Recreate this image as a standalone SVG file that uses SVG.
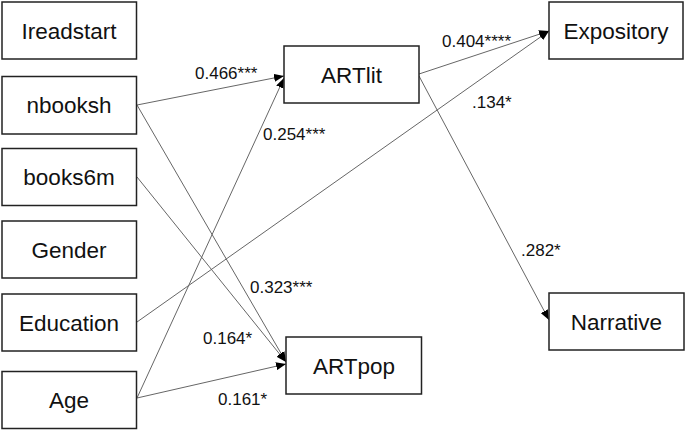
<svg xmlns="http://www.w3.org/2000/svg" width="685" height="431" viewBox="0 0 685 431">
<defs>
<style>
.box{fill:#fff;stroke:#222;stroke-width:1.5}
.lbl{font-family:"Liberation Sans",Arial,sans-serif;font-size:22.5px;fill:#111;text-anchor:middle}
.el{font-family:"Liberation Sans",Arial,sans-serif;font-size:17px;fill:#111}
.edge{stroke:#666;stroke-width:1;fill:none}
.arr{marker-end:url(#ah)}
</style>
<marker id="ah" markerUnits="userSpaceOnUse" markerWidth="10" markerHeight="8" viewBox="0 0 10 8" refX="10" refY="4" orient="auto">
<path d="M0,0 L10,4 L0,8 Z" fill="#000"/>
</marker>
</defs>
<rect width="685" height="431" fill="#fff"/>
<g id="connectors">
<line class="edge arr" x1="137" y1="105" x2="284" y2="76"/>
<line class="edge arr" x1="137" y1="398" x2="284" y2="78"/>
<line class="edge arr" x1="137" y1="398" x2="286" y2="364"/>
<line class="edge arr" x1="137" y1="105" x2="286" y2="362"/>
<line class="edge arr" x1="137" y1="177" x2="286" y2="362"/>
<line class="edge arr" x1="137" y1="322" x2="549" y2="31"/>
<line class="edge arr" x1="419" y1="74" x2="549" y2="31"/>
<line class="edge arr" x1="419" y1="76" x2="549" y2="320"/>
</g>
<g id="edge-labels">
<text class="el" x="195" y="79">0.466***</text>
<text class="el" x="263" y="140">0.254***</text>
<text class="el" x="442" y="47">0.404****</text>
<text class="el" x="472" y="108">.134*</text>
<text class="el" x="521" y="256">.282*</text>
<text class="el" x="250" y="293">0.323***</text>
<text class="el" x="203" y="344">0.164*</text>
<text class="el" x="218" y="405">0.161*</text>
</g>
<g id="Ireadstart"><rect class="box" x="2" y="2" width="134.5" height="57"/><text class="lbl" x="69" y="38.5">Ireadstart</text></g>
<g id="nbooksh"><rect class="box" x="2" y="76.5" width="134.5" height="57.5"/><text class="lbl" x="69" y="113">nbooksh</text></g>
<g id="books6m"><rect class="box" x="2" y="148.5" width="134.5" height="57"/><text class="lbl" x="69" y="185">books6m</text></g>
<g id="Gender"><rect class="box" x="2" y="221" width="134.5" height="57"/><text class="lbl" x="69" y="257.5">Gender</text></g>
<g id="Education"><rect class="box" x="2" y="294" width="134.5" height="57"/><text class="lbl" x="69" y="330.5">Education</text></g>
<g id="Age"><rect class="box" x="2" y="371.5" width="134.5" height="57"/><text class="lbl" x="69" y="408">Age</text></g>
<g id="ARTlit"><rect class="box" x="284" y="46" width="135" height="57"/><text class="lbl" x="351.5" y="82.5">ARTlit</text></g>
<g id="ARTpop"><rect class="box" x="286" y="337" width="135.5" height="57"/><text class="lbl" x="354" y="373.5">ARTpop</text></g>
<g id="Expository"><rect class="box" x="549" y="2" width="134" height="57"/><text class="lbl" x="616" y="38.5">Expository</text></g>
<g id="Narrative"><rect class="box" x="549" y="293" width="135" height="57"/><text class="lbl" x="616.5" y="329.5">Narrative</text></g>
</svg>
